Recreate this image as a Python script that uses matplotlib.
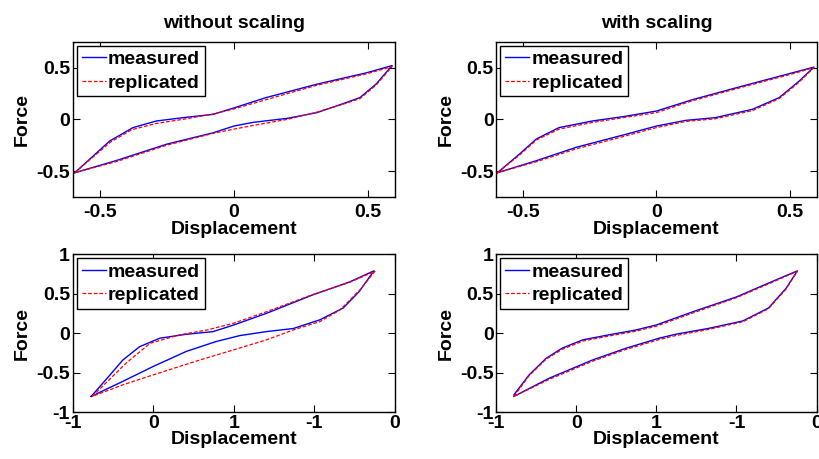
import matplotlib
matplotlib.use("Agg")
import matplotlib.pyplot as plt

plt.rcParams['font.family'] = ['Liberation Sans', 'DejaVu Sans']
plt.rcParams['font.weight'] = 'bold'
plt.rcParams['font.size'] = 14

# top-left: without scaling
tl_meas_x = [-0.593, -0.463, -0.376, -0.289, -0.19, -0.077, 0.0, 0.12, 0.31, 0.495, 0.59,
             0.53, 0.47, 0.40, 0.31, 0.20, 0.07, 0.0, -0.077, -0.25, -0.44, -0.593]
tl_meas_y = [-0.516, -0.21, -0.08, -0.016, 0.016, 0.048, 0.11, 0.21, 0.34, 0.45, 0.52,
             0.34, 0.21, 0.145, 0.065, 0.01, -0.03, -0.065, -0.13, -0.24, -0.40, -0.516]
tl_rep_x = [-0.593, -0.46, -0.38, -0.29, -0.19, -0.08, 0.0, 0.12, 0.31, 0.495, 0.59,
            0.53, 0.47, 0.40, 0.31, 0.20, 0.07, 0.0, -0.077, -0.25, -0.44, -0.593]
tl_rep_y = [-0.516, -0.22, -0.10, -0.04, 0.0, 0.05, 0.10, 0.19, 0.33, 0.44, 0.51,
            0.33, 0.20, 0.14, 0.07, 0.0, -0.06, -0.095, -0.135, -0.25, -0.41, -0.516]

# top-right: with scaling
tr_meas_x = [-0.596, -0.515, -0.45, -0.365, -0.24, -0.115, 0.0, 0.135, 0.32, 0.51, 0.59,
             0.535, 0.46, 0.36, 0.22, 0.11, 0.0, -0.115, -0.30, -0.45, -0.596]
tr_meas_y = [-0.516, -0.34, -0.19, -0.08, -0.016, 0.03, 0.08, 0.19, 0.32, 0.45, 0.505,
             0.37, 0.21, 0.097, 0.016, -0.01, -0.065, -0.145, -0.27, -0.40, -0.516]
tr_rep_x = [-0.596, -0.515, -0.45, -0.365, -0.24, -0.115, 0.0, 0.135, 0.32, 0.51, 0.59,
            0.535, 0.46, 0.36, 0.22, 0.11, 0.0, -0.115, -0.30, -0.45, -0.596]
tr_rep_y = [-0.516, -0.35, -0.20, -0.095, -0.03, 0.02, 0.065, 0.18, 0.31, 0.44, 0.50,
            0.36, 0.20, 0.085, 0.005, -0.02, -0.08, -0.16, -0.285, -0.41, -0.516]

# bottom-left: without scaling
bl_meas_x = [-0.886, -0.77, -0.69, -0.585, -0.46, -0.295, -0.13, 0.0, 0.2, 0.49, 0.72, 0.87,
             0.78, 0.68, 0.535, 0.37, 0.2, 0.037, -0.11, -0.295, -0.5, -0.69, -0.886]
bl_meas_y = [-0.80, -0.53, -0.34, -0.17, -0.063, -0.013, 0.02, 0.105, 0.25, 0.485, 0.65, 0.79,
             0.53, 0.32, 0.17, 0.06, 0.02, -0.03, -0.105, -0.23, -0.42, -0.61, -0.80]
bl_rep_x = [-0.88, -0.67, -0.52, -0.336, -0.17, 0.0, 0.2, 0.49, 0.72, 0.877,
            0.784, 0.66, 0.535, 0.37, 0.203, 0.0, -0.21, -0.5, -0.69, -0.88]
bl_rep_y = [-0.80, -0.38, -0.127, -0.02, 0.04, 0.127, 0.27, 0.49, 0.645, 0.785,
            0.55, 0.295, 0.148, 0.042, -0.084, -0.21, -0.338, -0.527, -0.654, -0.80]

# bottom-right: with scaling
br_meas_x = [-0.89, -0.796, -0.69, -0.59, -0.46, -0.296, -0.13, 0.0, 0.225, 0.5, 0.746, 0.88,
             0.81, 0.70, 0.54, 0.33, 0.12, 0.017, -0.19, -0.40, -0.67, -0.89]
br_meas_y = [-0.78, -0.53, -0.32, -0.19, -0.084, -0.02, 0.04, 0.105, 0.27, 0.46, 0.675, 0.79,
             0.57, 0.32, 0.156, 0.063, -0.013, -0.063, -0.19, -0.34, -0.57, -0.80]
br_rep_x = [-0.89, -0.796, -0.69, -0.59, -0.46, -0.296, -0.13, 0.0, 0.225, 0.5, 0.746, 0.88,
            0.81, 0.70, 0.54, 0.33, 0.12, 0.017, -0.19, -0.40, -0.67, -0.89]
br_rep_y = [-0.80, -0.54, -0.33, -0.205, -0.10, -0.035, 0.025, 0.09, 0.255, 0.45, 0.665, 0.785,
            0.56, 0.31, 0.145, 0.05, -0.03, -0.08, -0.205, -0.355, -0.585, -0.80]

titles = ['without scaling', 'with scaling']
top_ticks = [-0.5, 0, 0.5]
top_labels = ['-0.5', '0', '0.5']
bottom_xticks = [-1, -0.5, 0, 0.5, 1]
bottom_xlabels = ['-1', '0', '1', '-1', '0']
bottom_yticks = [-1, -0.5, 0, 0.5, 1]
bottom_ylabels = ['-1', '-0.5', '0', '0.5', '1']

fig = plt.figure(figsize=(8.19, 4.59), dpi=100)
positions = [[0.089, 0.571, 0.393, 0.338], [0.606, 0.571, 0.391, 0.338],
             [0.089, 0.102, 0.393, 0.344], [0.606, 0.102, 0.391, 0.344]]
panels = [(tl_meas_x, tl_meas_y, tl_rep_x, tl_rep_y),
          (tr_meas_x, tr_meas_y, tr_rep_x, tr_rep_y),
          (bl_meas_x, bl_meas_y, bl_rep_x, bl_rep_y),
          (br_meas_x, br_meas_y, br_rep_x, br_rep_y)]

for i, (mx, my, rx, ry) in enumerate(panels):
    ax = fig.add_axes(positions[i])
    ax.plot(mx, my, color='blue', lw=1.0, label='measured')
    ax.plot(rx, ry, color='red', lw=0.9, ls=(0, (3, 1.5)), label='replicated')
    ax.tick_params(direction='in', top=True, right=True, length=5, width=0.8)
    ax.tick_params(axis='y', pad=2)
    if i < 2:
        ax.set_xlim(-0.6, 0.6)
        ax.set_ylim(-0.75, 0.75)
        ax.set_xticks(top_ticks)
        ax.set_xticklabels(top_labels)
        ax.set_yticks(top_ticks)
        ax.set_yticklabels(top_labels)
        ax.set_title(titles[i], fontsize=14, fontweight='bold', pad=10)
        ax.tick_params(axis='x', pad=5)
        ax.set_xlabel('Displacement', fontweight='bold', labelpad=0)
    else:
        ax.set_xlim(-1, 1)
        ax.set_ylim(-1, 1)
        ax.set_xticks(bottom_xticks)
        ax.set_xticklabels(bottom_xlabels)
        ax.set_yticks(bottom_yticks)
        ax.set_yticklabels(bottom_ylabels)
        ax.tick_params(axis='x', pad=2)
        ax.set_xlabel('Displacement', fontweight='bold', labelpad=-1)
    for s in ax.spines.values():
        s.set_linewidth(1.0)
    ax.set_ylabel('Force', fontweight='bold', labelpad=4)
    leg = ax.legend(loc='upper left', fancybox=False, edgecolor='black',
                    borderaxespad=0.2, borderpad=0.25, labelspacing=0.3,
                    handlelength=1.25, handletextpad=0.1, framealpha=1)
    leg.get_frame().set_linewidth(1.0)

fig.savefig('out.png', dpi=100)
